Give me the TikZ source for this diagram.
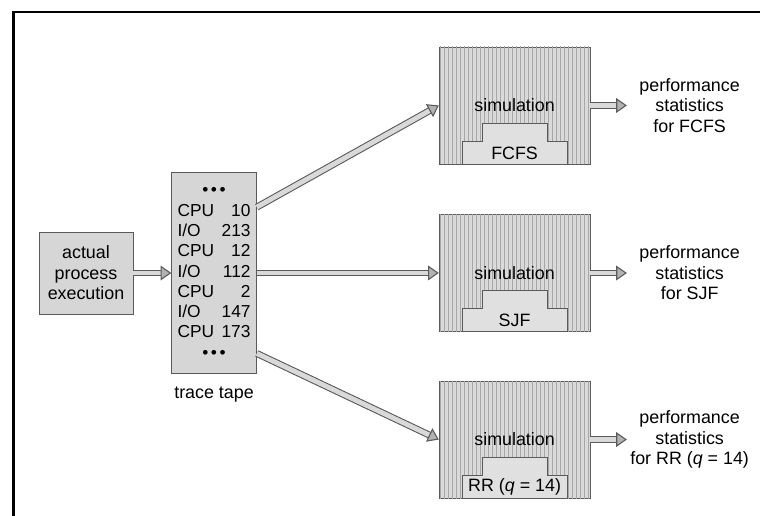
\documentclass[tikz,border=0pt]{standalone}
\usepackage{fontspec}
\setmainfont{Liberation Sans}
\usetikzlibrary{arrows.meta,positioning,calc,patterns}
\definecolor{tapegray}{RGB}{214,214,214}
\definecolor{simgray}{RGB}{218,218,218}
\definecolor{stepgray}{RGB}{224,224,224}
\definecolor{edgegray}{RGB}{90,90,90}

\begin{document}
\begin{tikzpicture}[x=0.75pt,y=-0.75pt,node distance=28.5pt,
  every node/.style={font=\fontsize{13.4}{15.4}\selectfont,align=center},
  box/.style={draw=edgegray,fill=tapegray,inner sep=0pt},
  simbox/.style={draw=edgegray,fill=simgray,postaction={pattern=vertical lines,pattern color=gray!70},minimum width=113.25pt,minimum height=87.75pt,inner sep=0pt},
  stepbox/.style={draw=edgegray,fill=stepgray},
  fat/.style={draw=edgegray,line width=0.8pt,double=gray!30,double distance=3.6pt,-{Triangle[length=8pt,width=11pt,fill=gray!60]}},
  stats/.style={minimum width=93.75pt,inner sep=0pt}]
\useasboundingbox (0,0) rectangle (760,516);
\draw[line width=2.2pt] (13.5,516) -- (13.5,12) -- (760,12);
\node[box,minimum width=70.5pt,minimum height=61.5pt] (actual) at (86,273) {actual\\process\\execution};
\node[box,right=of actual,minimum width=63.75pt,minimum height=150.75pt,font=\fontsize{13}{15.2}\selectfont] (tape) {\begin{tabular*}{54.75pt}{@{}l@{\extracolsep{\fill}}r@{}}
  \multicolumn{2}{c}{\textbullet\hspace{2pt}\textbullet\hspace{2pt}\textbullet}\\
  CPU & 10\\ I/O & 213\\ CPU & 12\\ I/O & 112\\ CPU & 2\\ I/O & 147\\ CPU & 173\\
  \multicolumn{2}{c}{\textbullet\hspace{2pt}\textbullet\hspace{2pt}\textbullet}
  \end{tabular*}};
\node[below=6pt of tape] (tapelabel) {trace tape};
\node[simbox,right=136.5pt of tape] (sim2) {simulation};
\node[simbox,above=37.5pt of sim2] (sim1) {simulation};
\node[simbox,below=36.75pt of sim2] (sim3) {simulation};
% stepped queues inside the simulations
\draw[stepbox] ($(sim1.south)+(-52.5,0)$) -- ++(0,-23) -- ++(20,0) -- ++(0,-18) -- ++(65,0) -- ++(0,18) -- ++(20,0) -- ++(0,23) -- cycle;
\draw[stepbox] ($(sim2.south)+(-52.5,0)$) -- ++(0,-23) -- ++(20,0) -- ++(0,-18) -- ++(65,0) -- ++(0,18) -- ++(20,0) -- ++(0,23) -- cycle;
\draw[stepbox] ($(sim3.south)+(-52.5,0)$) -- ++(0,-23) -- ++(20,0) -- ++(0,-18) -- ++(65,0) -- ++(0,18) -- ++(20,0) -- ++(0,23) -- cycle;
\node (alg1) at ($(sim1.south)+(0,-11)$) {FCFS};
\node (alg2) at ($(sim2.south)+(0,-11)$) {SJF};
\node (alg3) at ($(sim3.south)+(0,-11)$) {RR (\textit{q} = 14)};
\node[stats,right=27.4pt of sim1] (stats1) {performance\\statistics\\for FCFS};
\node[stats,right=27.4pt of sim2] (stats2) {performance\\statistics\\for SJF};
\node[stats,right=27.4pt of sim3] (stats3) {performance\\statistics\\for RR (\textit{q} = 14)};
\draw[fat] (actual) -- (tape);
\draw[fat] (tape.57) -- (sim1.west);
\draw[fat] (tape.east) -- (sim2.west);
\draw[fat] (tape.-62) -- (sim3.west);
\draw[fat] (sim1) -- (stats1);
\draw[fat] (sim2) -- (stats2);
\draw[fat] (sim3) -- (stats3);
\end{tikzpicture}
\end{document}
